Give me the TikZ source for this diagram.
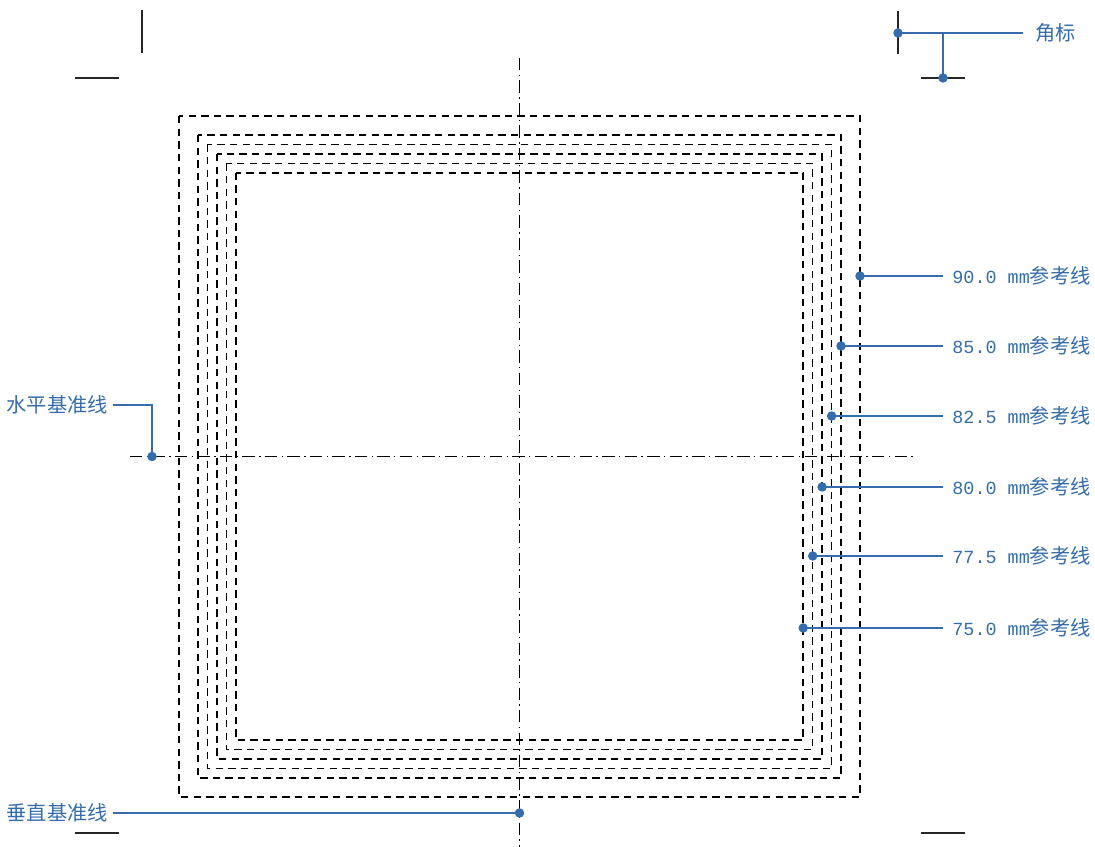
\documentclass[tikz,border=0pt]{standalone}
\usepackage{fontspec}
\setmonofont{Liberation Mono}
\newfontfamily\cjk{Noto Sans CJK SC}
\definecolor{leadblue}{RGB}{52,108,172}
\newcommand{\mmfont}{\fontsize{10.5pt}{13pt}\selectfont\ttfamily}

\begin{document}
\begin{tikzpicture}[x=0.02cm,y=-0.02cm,
  refline/.style={dash pattern=on 4.2pt off 3pt, line width=0.85pt},
  axisline/.style={dash pattern=on 7pt off 2.5pt on 0.8pt off 2.5pt, line width=0.6pt},
  cornermark/.style={line width=1pt, black!85},
  lead/.style={leadblue, line width=0.6pt},
  tag/.style={text=leadblue, font=\fontsize{11.5pt}{13pt}\selectfont, inner sep=0pt},
  pin/.style={fill=leadblue}]
\useasboundingbox (0,0) rectangle (1095,847);

% corner marks
\draw[cornermark] (142,10) -- (142,53); \draw[cornermark] (75,78) -- (119,78);
\draw[cornermark] (898,11) -- (898,54); \draw[cornermark] (921,78) -- (965,78);
\draw[cornermark] (75,833) -- (119,833); \draw[cornermark] (921,833) -- (965,833);

% reference squares
\draw[refline] (179,116) rectangle (860,797);
\draw[refline] (198,135) rectangle (841,778);
\draw[refline] (207.4,144.4) rectangle (831.6,768.6);
\draw[refline] (216.9,153.9) rectangle (822.1,759.1);
\draw[refline] (226.3,163.3) rectangle (812.7,749.7);
\draw[refline] (235.8,172.8) rectangle (803.2,740.2);

% datum lines
\draw[axisline] (519.5,58) -- (519.5,847);
\draw[axisline] (130,456.5) -- (915,456.5);

% labels on the right
\node[tag, anchor=west] (t90) at (952,276) {{\mmfont 90.0 mm}\cjk 参考线};
\node[tag, anchor=west] (t85) at (952,346) {{\mmfont 85.0 mm}\cjk 参考线};
\node[tag, anchor=west] (t825) at (952,416) {{\mmfont 82.5 mm}\cjk 参考线};
\node[tag, anchor=west] (t80) at (952,487) {{\mmfont 80.0 mm}\cjk 参考线};
\node[tag, anchor=west] (t775) at (952,556) {{\mmfont 77.5 mm}\cjk 参考线};
\node[tag, anchor=west] (t75) at (952,628) {{\mmfont 75.0 mm}\cjk 参考线};

\coordinate (d90) at (860,276);
\coordinate (d85) at (841,346);
\coordinate (d825) at (831.6,416);
\coordinate (d80) at (822.1,487);
\coordinate (d775) at (812.7,556);
\coordinate (d75) at (803.2,628);

\draw[lead] (d90) -- ([xshift=-5pt]t90.west);
\draw[lead] (d85) -- ([xshift=-5pt]t85.west);
\draw[lead] (d825) -- ([xshift=-5pt]t825.west);
\draw[lead] (d80) -- ([xshift=-5pt]t80.west);
\draw[lead] (d775) -- ([xshift=-5pt]t775.west);
\draw[lead] (d75) -- ([xshift=-5pt]t75.west);

\fill[pin] (d90) circle[radius=2.7pt];
\fill[pin] (d85) circle[radius=2.7pt];
\fill[pin] (d825) circle[radius=2.7pt];
\fill[pin] (d80) circle[radius=2.7pt];
\fill[pin] (d775) circle[radius=2.7pt];
\fill[pin] (d75) circle[radius=2.7pt];

% datum labels
\node[tag, anchor=east] (hdatum) at (108,405) {\cjk 水平基准线};
\coordinate (hpin) at (152,456.5);
\draw[lead] ([xshift=3pt]hdatum.east) -| (hpin);
\fill[pin] (hpin) circle[radius=2.7pt];

\node[tag, anchor=east] (vdatum) at (108,813) {\cjk 垂直基准线};
\coordinate (vpin) at (519.5,813);
\draw[lead] ([xshift=3pt]vdatum.east) -- (vpin);
\fill[pin] (vpin) circle[radius=2.7pt];

% corner mark label
\node[tag, anchor=west] (jiao) at (1035,33) {\cjk 角标};
\coordinate (c1) at (898,33);
\coordinate (c2) at (943,78);
\draw[lead] (c1) -- ([xshift=-7pt]jiao.west);
\draw[lead] (c2) -- (c2 |- c1);
\fill[pin] (c1) circle[radius=2.7pt];
\fill[pin] (c2) circle[radius=2.7pt];

\end{tikzpicture}
\end{document}
